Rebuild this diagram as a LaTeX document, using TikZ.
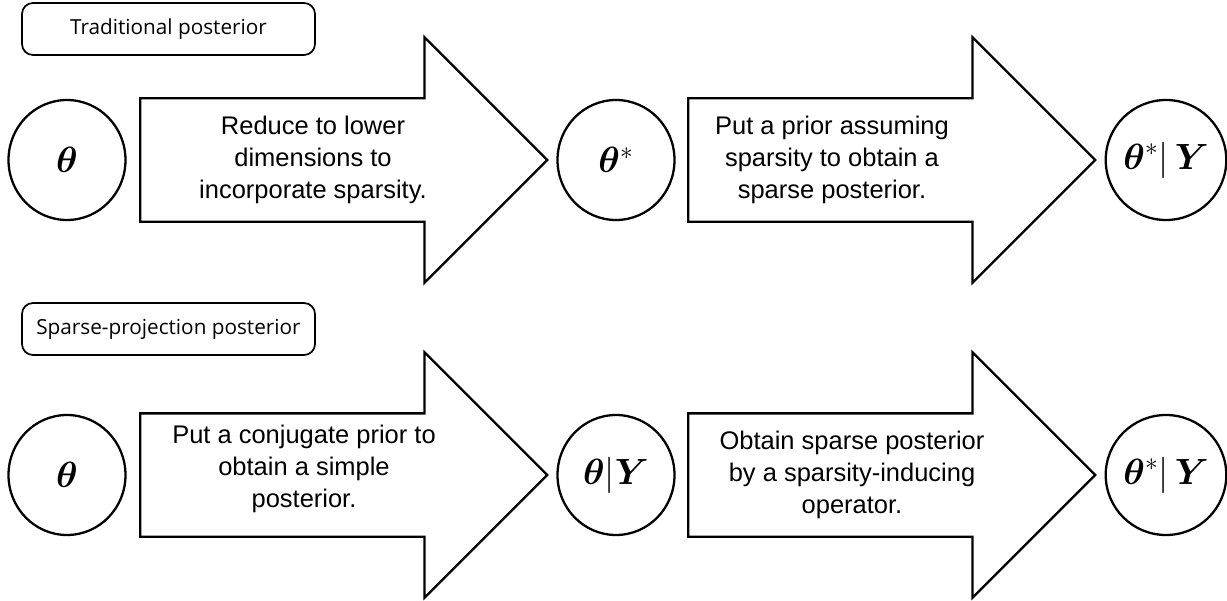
\documentclass[tikz,border=0pt]{standalone}
\usepackage{amsmath, bm}
\usepackage{fontspec}
\usepackage{tikz}
\usetikzlibrary{positioning, shapes.geometric, shapes.arrows}
\newfontfamily\tagfont{Open Sans}
\newfontfamily\arrowfont{Liberation Sans}

\begin{document}
\begin{tikzpicture}[
    state/.style={ellipse, draw, line width=1.3pt, minimum width=2.34cm,
                  minimum height=2.4cm, inner sep=0pt,
                  font=\fontsize{20}{24}\selectfont},
    tag/.style={draw, rounded corners=0.22cm, line width=1pt,
                minimum width=5.86cm, minimum height=1.04cm,
                font=\tagfont\fontsize{11.8}{14}\selectfont},
    bigarrow/.style={single arrow, draw, line width=1.3pt, anchor=tail,
                     minimum height=8.14cm, minimum width=4.9cm,
                     single arrow head extend=1.22cm,
                     single arrow tip angle=90,
                     inner xsep=0pt, inner ysep=1.21cm},
    steptext/.style={align=center,
                     font=\arrowfont\fontsize{14.5}{18.2}\selectfont}
  ]
  \useasboundingbox (0,0) rectangle (24.54,12);
  % top row: traditional
  \node[tag] (tradtag) at (3.37, 11.42) {Traditional posterior};
  \node[state] (theta1) at (1.34, 8.8) {$\bm{\theta}$};
  \node[bigarrow] (reduce) at (2.78, 8.8) {};
  \node[steptext] (reducetext) at (6.26, 8.8)
    {Reduce to lower\\dimensions to\\incorporate sparsity.};
  \node[state] (thetastar) at (12.32, 8.8) {$\bm{\theta}^*$};
  \node[bigarrow] (prior) at (13.74, 8.8) {};
  \node[steptext] (priortext) at (16.64, 8.8)
    {Put a prior assuming\\sparsity to obtain a\\sparse posterior.};
  \node[state] (post1) at (23.32, 8.8) {$\bm{\theta}^*|\,\bm{Y}$};
  % bottom row: sparse projection
  \node[tag] (projtag) at (3.37, 5.42) {Sparse-projection posterior};
  \node[state] (theta2) at (1.34, 2.5) {$\bm{\theta}$};
  \node[bigarrow] (conj) at (2.78, 2.5) {};
  \node[steptext] (conjtext) at (6.08, 2.63)
    {Put a conjugate prior to\\obtain a simple\\posterior.};
  \node[state] (thetay) at (12.32, 2.5) {$\bm{\theta}|\bm{Y}$};
  \node[bigarrow] (sparsify) at (13.74, 2.5) {};
  \node[steptext] (sparsifytext) at (17.04, 2.5)
    {Obtain sparse posterior\\by a sparsity-inducing\\operator.};
  \node[state] (post2) at (23.32, 2.5) {$\bm{\theta}^*|\,\bm{Y}$};
\end{tikzpicture}
\end{document}
